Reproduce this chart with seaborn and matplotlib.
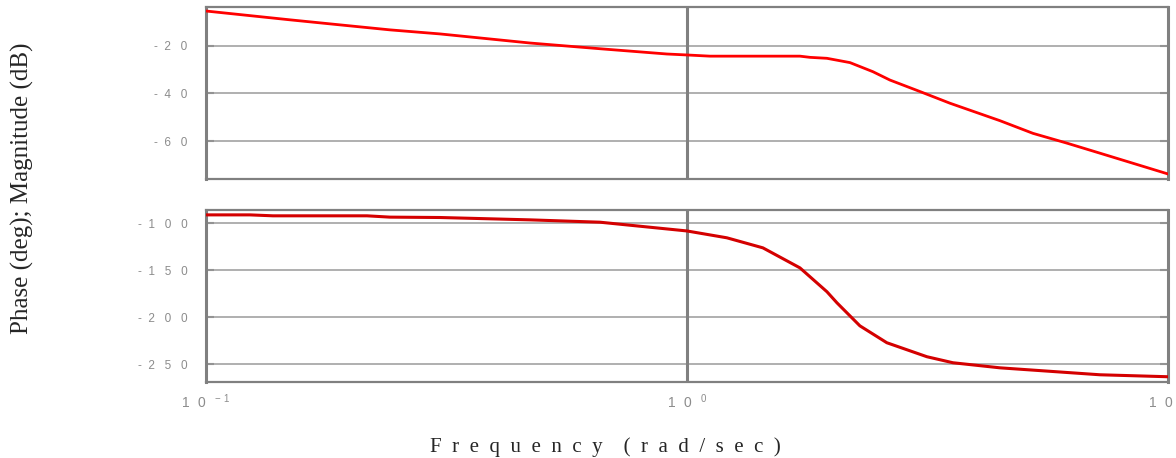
import matplotlib
matplotlib.use("Agg")
import matplotlib.pyplot as plt
import seaborn as sns

# Magnitude curve (dB)
mag_freq = [0.1, 0.1497, 0.190, 0.2415, 0.307, 0.472, 0.660, 0.909, 1.0, 1.117,
            1.718, 1.803, 1.955, 2.183, 2.436, 2.643, 3.051, 3.523, 4.474,
            5.24, 6.165, 7.22, 8.45, 10.0]
mag_db = [-5.5, -9.2, -11.3, -13.4, -15.1, -18.9, -21.3, -23.5, -23.9, -24.4,
          -24.4, -24.9, -25.3, -27.1, -30.9, -34.4, -39.2, -44.1, -51.4,
          -56.7, -60.8, -65.0, -69.2, -73.7]

# Phase curve (deg)
phase_freq = [0.1, 0.1236, 0.138, 0.2164, 0.2415, 0.307, 0.472, 0.660, 1.0,
              1.211, 1.439, 1.718, 1.955, 2.051, 2.289, 2.604, 3.155, 3.573,
              4.474, 7.22, 10.0]
phase_deg = [-91.2, -91.2, -92.2, -92.2, -93.6, -94.0, -96.5, -99.0, -108.3,
             -115.6, -126.3, -147.6, -173.0, -184.8, -209.3, -227.3, -242.2,
             -248.6, -254.0, -261.4, -263.5]

mag_ticks = [-20, -40, -60]
mag_labels = ["-  2   0", "-  4   0", "-  6   0"]
phase_ticks = [-100, -150, -200, -250]
phase_labels = ["-  1   0   0", "-  1   5   0", "-  2   0   0", "-  2   5   0"]
x_ticks = [0.1, 1, 10]
x_labels = [r"$\mathregular{1\ \ 0\ \ ^{-\ 1}}$", r"$\mathregular{1\ \ 0\ \ ^{0}}$",
            r"$\mathregular{1\ \ 0\ \ ^{1}}$"]

sns.set_style("white")
plt.rcParams["font.family"] = ["Liberation Sans", "DejaVu Sans"]

fig = plt.figure(figsize=(11.76, 4.58), dpi=100)
ax_mag = fig.add_axes([0.1749, 0.6092, 0.8183, 0.3762])
ax_ph = fig.add_axes([0.1749, 0.1649, 0.8183, 0.3766])

GRAY = "#808080"
GRID = "#9a9a9a"
TICKTXT = "#8c8c8c"


def style_axis(ax, yticks, ylabels, ylim, show_x):
    ax.set_xscale("log")
    ax.set_xlim(0.1, 10)
    ax.set_ylim(*ylim)
    ax.set_yticks(yticks)
    ax.set_yticklabels(ylabels)
    ax.set_xticks(x_ticks)
    ax.minorticks_off()
    if show_x:
        ax.set_xticklabels(x_labels)
    else:
        ax.set_xticklabels([])
    for y in yticks:
        ax.axhline(y, color=GRID, lw=1.1, zorder=1)
    ax.axvline(1, color=GRAY, lw=2.2, zorder=1)
    for side, sp in ax.spines.items():
        sp.set_visible(True)
        sp.set_color(GRAY)
        sp.set_linewidth(2.2 if side in ("left", "right") else 1.6)
    ax.tick_params(axis="y", direction="in", length=6, width=1.5, color=GRAY,
                   left=True, right=True, labelsize=8.5, labelcolor=TICKTXT, pad=13)
    ax.tick_params(axis="x", length=0, labelsize=10, labelcolor=TICKTXT, pad=7)
    ax.set_xlabel("")
    ax.set_ylabel("")


sns.lineplot(x=mag_freq, y=mag_db, ax=ax_mag, color="#ff0000", linewidth=2.0, zorder=3)
sns.lineplot(x=phase_freq, y=phase_deg, ax=ax_ph, color="#d40000", linewidth=2.2, zorder=3)

style_axis(ax_mag, mag_ticks, mag_labels, (-75.8, -3.7), False)
style_axis(ax_ph, phase_ticks, phase_labels, (-269.6, -86.0), True)

fig.text(0.0187, 0.59, "Phase (deg); Magnitude (dB)", rotation=90, ha="center",
         va="center", fontsize=18, family=["Liberation Serif", "DejaVu Serif"])
fig.text(0.515, 0.013, "F  r  e  q  u  e  n  c  y    (  r  a  d  /  s  e  c  )",
         ha="center", va="baseline", fontsize=15,
         family=["Liberation Serif", "DejaVu Serif"])

fig.savefig("out.png", dpi=100)
